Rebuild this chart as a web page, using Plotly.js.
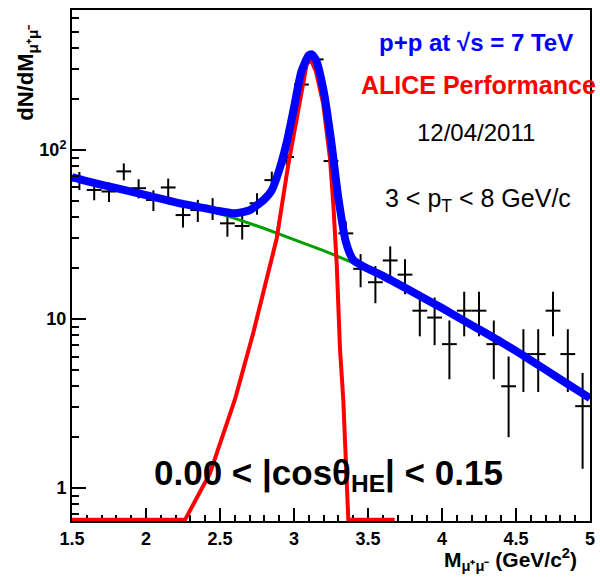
<!DOCTYPE html>
<html><head><meta charset="utf-8">
<script src="https://cdn.plot.ly/plotly-3.0.1.min.js"></script>
<style>html,body{margin:0;padding:0;background:#fff;}#chart{width:600px;height:577px;}</style>
</head><body><div id="chart"></div>
<script>
// Data points (bin centres, dN/dM, errors)
const massBins = [1.55,1.65,1.75,1.85,1.95,2.05,2.15,2.25,2.35,2.45,2.55,2.65,2.75,2.85,2.95,3.05,3.15,3.25,3.35,3.45,3.55,3.65,3.75,3.85,3.95,4.05,4.15,4.25,4.35,4.45,4.55,4.65,4.75,4.85,4.95];
const counts = [66.0,58.0,56.8,74.7,59.4,50.6,60.0,41.2,44.1,45.2,36.8,35.5,48.4,66.3,90.9,243.8,343.4,86.0,32.1,19.8,16.5,22.2,18.3,11.2,10.2,7.1,11.2,11.2,7.1,4.0,6.2,6.2,11.2,6.2,3.05];
const countErrors = [8.1,7.6,7.5,8.6,7.7,7.1,7.7,6.4,6.6,6.7,6.1,6.0,7.0,8.1,9.5,15.6,18.5,9.3,5.7,4.4,4.1,4.7,4.3,3.3,3.2,2.7,3.3,3.3,2.7,2.0,2.5,2.5,3.3,2.5,1.75];
const binHalfWidth = 0.05;

// Background fit (green)
const bkgMass = [1.5,1.6,1.8,2.0,2.2,2.4,2.6,2.8,3.0,3.2,3.4,3.6,3.8,4.0,4.2,4.4,4.6,4.8,5.0];
const bkgValues = [69.1,65.4,59.4,54.0,49.0,44.6,39.4,34.3,29.5,25.4,21.5,18.0,14.5,11.6,9.2,7.3,5.7,4.4,3.4];

// Signal fit (red)
const sigMass = [1.5,2.264,2.432,2.601,2.725,2.883,2.961,3.018,3.086,3.115,3.149,3.196,3.243,3.266,3.289,3.311,3.333,3.367,3.68];
const sigValues = [0.65,0.65,1.22,3.34,8.3,29.9,81.7,148,322,341,290,190,89.6,47.3,20.8,6.6,3.34,0.65,0.65];

// Total fit (blue)
const totMass = [1.5,1.6,1.8,2.0,2.2,2.4,2.5,2.6,2.7,2.8,2.85,2.9,2.95,3.0,3.05,3.1,3.12,3.15,3.2,3.25,3.3,3.35,3.4,3.5,3.6,3.8,4.0,4.2,4.4,4.6,4.8,5.0];
const totValues = [69.1,65.4,59.4,54.0,49.0,45.2,43.4,42.2,44.0,51.1,57.8,76.0,110,178,291,363,368,339,224,115,51.8,28.7,22.4,19.8,18.0,14.5,11.6,9.2,7.3,5.7,4.4,3.4];

// Axis ticks
const yTickVals = [1,10,100];
const yTickText = ['1','10','10<sup>2</sup>'];
const yMinorVals = [0.7,0.8,0.9,2,3,4,5,6,7,8,9,20,30,40,50,60,70,80,90,200,300,400,500,600];

const FONT = 'Liberation Sans, Arial, Helvetica, sans-serif';

const traces = [
  {x: massBins, y: counts, type:'scatter', mode:'markers',
   marker:{size:1, color:'black'},
   error_y:{type:'data', array: countErrors, visible:true, color:'black', thickness:2, width:0},
   error_x:{type:'constant', value: binHalfWidth, visible:true, color:'black', thickness:2, width:0},
   hoverinfo:'skip', showlegend:false},
  {x: bkgMass, y: bkgValues, type:'scatter', mode:'lines', line:{color:'#00a000', width:3}, showlegend:false},
  {x: sigMass, y: sigValues, type:'scatter', mode:'lines', line:{color:'#ff0000', width:4}, showlegend:false},
  {x: totMass, y: totValues, type:'scatter', mode:'lines', line:{color:'#0000ff', width:8, shape:'spline', smoothing:0.6}, showlegend:false}
];

const layout = {
  width:600, height:577,
  margin:{l:72, r:10, t:10, b:56},
  paper_bgcolor:'white', plot_bgcolor:'white',
  showlegend:false,
  xaxis:{range:[1.5,5], tick0:1.5, dtick:0.5, ticks:'inside', ticklen:13, tickwidth:2, tickcolor:'black',
    showline:true, linewidth:2, linecolor:'black', mirror:true, showgrid:false, zeroline:false,
    layer:'below traces',
    tickfont:{family:FONT, size:18, color:'black', weight:'bold'},
    minor:{dtick:0.1, tick0:1.5, ticks:'inside', ticklen:6, tickwidth:2, tickcolor:'black', showgrid:false}},
  yaxis:{type:'log', range:[-0.195, 2.828], tickmode:'array', tickvals:yTickVals, ticktext:yTickText,
    ticks:'inside', ticklen:14, tickwidth:2, tickcolor:'black',
    showline:true, linewidth:2, linecolor:'black', mirror:true, showgrid:false, zeroline:false,
    tickfont:{family:FONT, size:18, color:'black', weight:'bold'},
    minor:{tickmode:'array', tickvals:yMinorVals, ticks:'inside', ticklen:7, tickwidth:2, tickcolor:'black', showgrid:false}},
  annotations:[
    {xref:'paper', yref:'paper', x:-0.087, y:0.975, xanchor:'center', yanchor:'top', textangle:-90, showarrow:false,
     text:'dN/dM<sub>μ⁺μ⁻</sub>', font:{family:FONT, size:22, color:'black', weight:'bold'}},
    {xref:'paper', yref:'paper', x:0.978, y:-0.076, xanchor:'right', yanchor:'middle', showarrow:false,
     text:'M<sub>μ⁺μ⁻</sub> (GeV/c<sup>2</sup>)', font:{family:FONT, size:21, color:'black', weight:'bold'}},
    {xref:'paper', yref:'paper', x:0.780, y:0.937, xanchor:'center', yanchor:'middle', showarrow:false,
     text:'p+p at √s = 7 TeV', font:{family:FONT, size:24, color:'#0000ff', weight:'bold'}},
    {xref:'paper', yref:'paper', x:0.784, y:0.853, xanchor:'center', yanchor:'middle', showarrow:false,
     text:'ALICE Performance', font:{family:FONT, size:25, color:'#ff0000', weight:'bold'}},
    {xref:'paper', yref:'paper', x:0.780, y:0.761, xanchor:'center', yanchor:'middle', showarrow:false,
     text:'12/04/2011', font:{family:FONT, size:24, color:'black'}},
    {xref:'paper', yref:'paper', x:0.784, y:0.628, xanchor:'center', yanchor:'middle', showarrow:false,
     text:'3 < p<sub>T</sub> < 8 GeV/c', font:{family:FONT, size:25, color:'black'}},
    {xref:'paper', yref:'paper', x:0.496, y:0.090, xanchor:'center', yanchor:'middle', showarrow:false,
     text:'0.00 < |cosθ<sub>HE</sub>| < 0.15', font:{family:FONT, size:35, color:'black', weight:'bold'}}
  ]
};

Plotly.newPlot('chart', traces, layout, {displayModeBar:false, staticPlot:true});
</script>
</body></html>
